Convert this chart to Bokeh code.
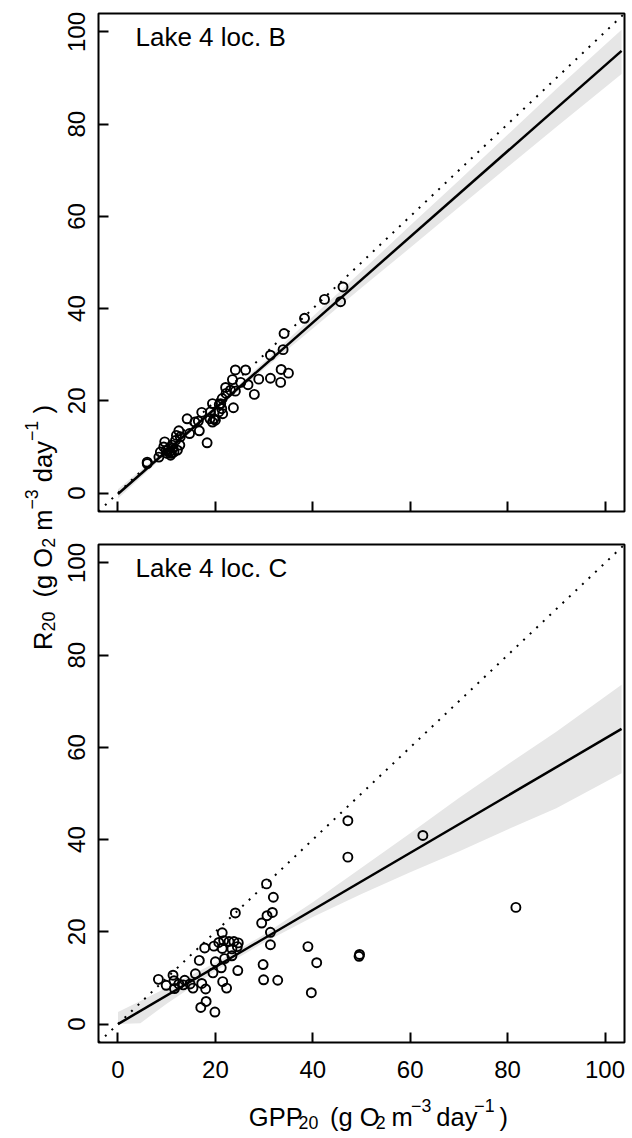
import math
from bokeh.plotting import figure
from bokeh.layouts import row, column
from bokeh.models import Label, Slope, Range1d, FixedTicker
from bokeh.embed import file_html
from bokeh.resources import INLINE
from bokeh.core.properties import value

FONT = "Liberation Sans"

# ---------------- data ----------------
ticks = [0, 20, 40, 60, 80, 100]
titles = ["Lake 4 loc. B", "Lake 4 loc. C"]

b_gpp = [46.2, 45.7, 42.4, 38.3, 34.1, 33.9, 31.3, 33.5, 35.0, 33.4, 31.3, 28.9, 28.0, 26.7,
         26.2, 24.1, 25.2, 23.5, 24.1, 22.1, 22.2, 23.1, 23.7, 20.8, 21.3, 21.5, 21.1, 21.4,
         20.7, 20.0, 19.4, 19.7, 19.4, 19.0, 18.9, 17.2, 16.5, 16.7, 15.8, 18.3, 14.2, 14.7,
         12.5, 12.0, 12.8, 12.7, 12.2, 11.8, 11.5, 11.1, 10.8, 10.4, 10.1, 9.6, 9.4, 8.7,
         8.4, 6.0, 6.0, 10.6, 11.3, 9.9, 11.0]
b_r = [44.7, 41.5, 42.0, 37.9, 34.6, 31.1, 29.9, 26.8, 26.0, 24.0, 24.9, 24.7, 21.4, 23.5,
       26.7, 26.7, 24.0, 24.6, 22.1, 22.9, 21.6, 22.3, 18.5, 19.2, 18.3, 17.2, 19.4, 20.5,
       17.6, 15.8, 19.4, 16.1, 15.4, 17.6, 16.1, 17.5, 15.6, 13.5, 15.4, 10.9, 16.1, 12.9,
       13.5, 12.5, 12.2, 10.4, 9.3, 11.4, 8.9, 10.4, 8.2, 9.6, 8.6, 11.1, 10.0, 8.9,
       7.8, 6.7, 6.4, 9.0, 9.8, 9.2, 8.6]

c_gpp = [81.7, 49.5, 49.6, 39.0, 40.8, 62.6, 47.2, 47.2, 30.5, 31.9, 30.6, 31.7, 29.5, 31.3,
         31.3, 29.8, 29.9, 32.8, 39.7, 24.1, 21.4, 20.7, 21.7, 22.8, 23.8, 24.7, 24.5, 23.4,
         21.4, 19.7, 17.8, 23.4, 21.9, 20.0, 21.2, 19.5, 24.6, 16.7, 15.9, 21.5, 22.3, 17.2,
         18.0, 18.1, 17.0, 19.9, 15.4, 8.3, 9.9, 11.3, 11.5, 11.6, 12.5, 13.7, 13.4, 14.8]
c_r = [25.3, 14.7, 15.1, 16.8, 13.3, 40.9, 44.1, 36.2, 30.4, 27.5, 23.5, 24.2, 21.9, 19.9,
       17.2, 12.9, 9.6, 9.5, 6.8, 24.1, 19.8, 17.7, 18.1, 17.9, 17.9, 17.6, 16.8, 16.3,
       16.4, 16.9, 16.5, 14.8, 14.2, 13.5, 12.2, 11.1, 11.6, 13.8, 10.9, 9.2, 7.8, 8.8,
       7.6, 4.9, 3.6, 2.6, 7.8, 9.7, 8.4, 10.6, 9.4, 7.7, 8.7, 9.5, 8.5, 8.7]

b_fit_x = [0.0, 103.4]
b_fit_y = [-0.2, 95.9]
b_band_x = [0, 10, 20, 30, 40, 50, 60, 70, 80, 90, 103.4]
b_band_lo = [-1.2, 8.5, 17.9, 26.9, 35.7, 44.5, 53.2, 62.0, 70.7, 79.4, 90.9]
b_band_hi = [0.8, 9.7, 18.9, 28.5, 38.3, 48.1, 58.0, 67.8, 77.7, 87.6, 100.5]

c_fit_x = [0.0, 103.4]
c_fit_y = [0.0, 64.0]
c_band_x = [0, 4.6, 10, 20, 30, 40, 50, 60, 70, 80, 90, 103.4]
c_band_lo = [0.0, 0.2, 4.4, 11.5, 17.7, 23.2, 28.2, 32.9, 37.4, 42.2, 46.8, 54.4]
c_band_hi = [2.6, 5.0, 7.9, 13.3, 19.4, 26.4, 33.9, 41.4, 49.0, 56.3, 63.4, 73.6]

xlab_pieces = [("GPP", "n"), ("20", "sub"), ("  (g O", "n"), ("2", "sub"), (" m", "n"),
               ("\u22123", "sup"), (" day", "n"), ("\u22121", "sup"), (" )", "n")]
ylab_pieces = [("R", "n"), ("20", "sub"), ("  (g O", "n"), ("2", "sub"), (" m", "n"),
               ("\u22123", "sup"), (" day", "n"), ("\u22121", "sup"), (" )", "n")]

# ---------------- helpers ----------------
WID = {' ': 0.278, '(': 0.333, ')': 0.333, 'g': 0.556, 'O': 0.778, 'm': 0.833, 'd': 0.556,
       'a': 0.556, 'y': 0.5, 'G': 0.778, 'P': 0.667, 'R': 0.722, '\u2212': 0.584}


def tw(s, size):
    return sum(WID.get(c, 0.556) for c in s) * size


def rich_text(fig, pieces, cx, cy, size, vertical=False):
    small = 0.7 * size
    total = sum(tw(t, size if k == "n" else small) for t, k in pieces)
    pos = -total / 2.0
    for t, k in pieces:
        s = size if k == "n" else small
        shift = 0.0 if k == "n" else (-0.22 * size if k == "sub" else 0.42 * size)
        lead = len(t) - len(t.lstrip(" "))
        body = t.strip(" ")
        start = pos + tw(" " * lead, s)
        if vertical:
            px, py, ang = cx - shift, cy + start, math.pi / 2
        else:
            px, py, ang = cx + start, cy + shift, 0.0
        if body:
            fig.text(x=[px], y=[py], text=[body], angle=ang, text_font=value(FONT),
                     text_font_size=value("%.1fpx" % s), text_color="black",
                     text_align="left", text_baseline="alphabetic")
        pos += tw(t, s)


def panel(height, btop, bbot, gpp, r, fx, fy, bx, blo, bhi, title, show_xlabels):
    p = figure(width=570, height=height, x_range=Range1d(-4, 104), y_range=Range1d(-4, 104),
               output_backend="svg", toolbar_location=None,
               min_border_left=40, min_border_right=4, min_border_top=btop,
               min_border_bottom=bbot)
    p.grid.visible = False
    p.outline_line_color = "black"
    p.outline_line_width = 2
    p.background_fill_color = "white"
    p.border_fill_color = "white"
    for ax in (p.xaxis[0], p.yaxis[0]):
        ax.ticker = FixedTicker(ticks=ticks)
        ax.axis_line_color = None
        ax.major_tick_in = 10
        ax.major_tick_out = 0
        ax.major_tick_line_width = 2
        ax.major_tick_line_color = "black"
        ax.minor_tick_line_color = None
        ax.major_label_text_font = FONT
        ax.major_label_text_font_size = "24px"
        ax.major_label_text_color = "black"
    p.yaxis.major_label_orientation = "vertical"
    p.yaxis.major_label_standoff = 13
    p.xaxis.major_label_standoff = 18
    if not show_xlabels:
        p.xaxis.major_label_text_color = None

    p.varea(x=bx, y1=blo, y2=bhi, fill_color="#e6e6e6")
    p.add_layout(Slope(gradient=1, y_intercept=0, line_color="black", line_width=2,
                       line_dash="2 7"))
    p.line(fx, fy, line_color="black", line_width=2.5)
    p.scatter(gpp, r, marker="circle", size=9, fill_color=None, line_color="black",
              line_width=1.9)
    p.add_layout(Label(x=3.6, y=99, text=title, text_font=FONT, text_font_size="26px",
                       text_color="black", text_align="left", text_baseline="alphabetic"))
    return p


top = panel(527, 13, 16, b_gpp, b_r, b_fit_x, b_fit_y, b_band_x, b_band_lo, b_band_hi,
            titles[0], False)
bot = panel(561, 17, 46, c_gpp, c_r, c_fit_x, c_fit_y, c_band_x, c_band_lo, c_band_hi,
            titles[1], True)


def label_fig(w, h):
    f = figure(width=w, height=h, x_range=Range1d(0, w), y_range=Range1d(0, h),
               x_axis_type=None, y_axis_type=None, output_backend="svg",
               toolbar_location=None, min_border=0, min_border_left=0, min_border_right=0,
               min_border_top=0, min_border_bottom=0)
    f.grid.visible = False
    f.outline_line_color = None
    f.background_fill_color = "white"
    f.border_fill_color = "white"
    return f


xl = label_fig(570, 48)
rich_text(xl, xlab_pieces, 303, 20, 25.5)

yl = label_fig(58, 1136)
rich_text(yl, ylab_pieces, 42, 609, 25.5, vertical=True)

layout = row(yl, column(top, bot, xl))

open("out.html", "w").write(file_html(layout, INLINE))
